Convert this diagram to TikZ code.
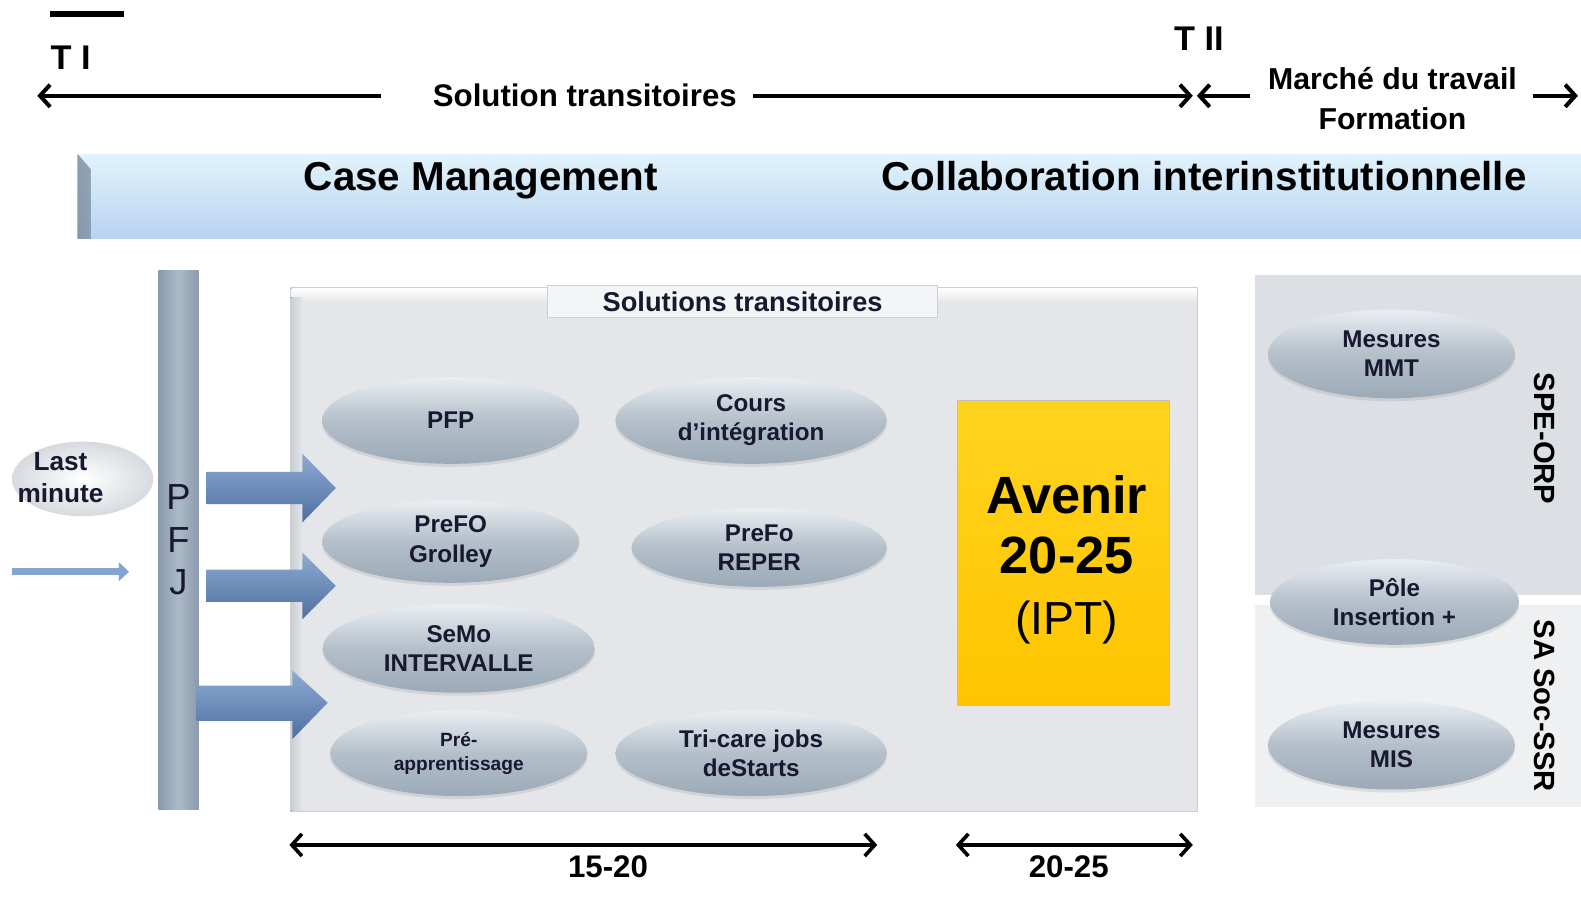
\documentclass[tikz,border=0pt]{standalone}
\usepackage{fontspec}
\setmainfont{Liberation Sans}
\usetikzlibrary{shapes.geometric,arrows.meta,shadows}
\definecolor{banTop}{RGB}{226,243,252}
\definecolor{banBot}{RGB}{184,210,240}
\definecolor{banEdge}{RGB}{178,198,222}
\definecolor{panel}{RGB}{228,230,233}
\definecolor{panelEdge}{RGB}{204,207,211}
\definecolor{tabFill}{RGB}{244,245,246}
\definecolor{pTop}{RGB}{234,238,242}
\definecolor{pMid}{RGB}{180,191,202}
\definecolor{pBot}{RGB}{156,170,184}
\definecolor{pfjA}{RGB}{138,154,172}
\definecolor{pfjB}{RGB}{172,186,200}
\definecolor{arTop}{RGB}{142,170,210}
\definecolor{arBot}{RGB}{78,112,160}
\definecolor{thinA}{RGB}{130,164,206}
\definecolor{goldTop}{RGB}{255,212,30}
\definecolor{goldBot}{RGB}{255,196,0}
\definecolor{goldEdge}{RGB}{190,190,190}
\definecolor{speFill}{RGB}{220,223,227}
\definecolor{socFill}{RGB}{238,240,242}
\definecolor{ink}{RGB}{24,24,48}
\definecolor{lmOut}{RGB}{214,218,223}
\tikzset{
  pill/.style={ellipse, draw=none, top color=pTop, bottom color=pBot, middle color=pMid,
    inner sep=0pt, align=center, text=ink, font=\bfseries\fontsize{12}{14.5}\selectfont,
    drop shadow={opacity=0.18, shadow xshift=0pt, shadow yshift=-1.5pt}},
  conn/.style={line width=2pt, -{Straight Barb[length=5pt,width=11pt]}},
  span/.style={line width=1.8pt, {Straight Barb[length=5pt,width=11pt]}-{Straight Barb[length=5pt,width=11pt]}},
  toptext/.style={font=\bfseries\fontsize{15.5}{19}\selectfont, inner sep=0pt},
  bantext/.style={font=\bfseries\fontsize{20}{24}\selectfont, inner sep=0pt, anchor=base},
  blockarrow/.style={top color=arTop, bottom color=arBot},
  sidetext/.style={rotate=-90, font=\bfseries\fontsize{14.5}{16}\selectfont, inner sep=0pt}
}
\begin{document}
\begin{tikzpicture}[x=0.5pt,y=-0.5pt]
\useasboundingbox[fill=white] (0,0) rectangle (1568,889);

% top timeline
\fill (50,11) rectangle (123,17);
\node[toptext, font=\bfseries\fontsize{17}{20}\selectfont] (ti) at (70,57) {T I};
\node[toptext, font=\bfseries\fontsize{17}{20}\selectfont] (tii) at (1189,38) {T II};
\node[toptext] (st) at (580,95) {Solution transitoires};
\node[toptext, font=\bfseries\fontsize{15}{19}\selectfont] (mt) at (1381,78) {Marché du travail};
\node[toptext, font=\bfseries\fontsize{15}{19}\selectfont] (form) at (1381,118) {Formation};
\coordinate (a0) at (37,95);
\coordinate (a1) at (378,95);
\coordinate (a2) at (747,95);
\coordinate (a3) at (1183,95);
\coordinate (a4) at (1240,95);
\coordinate (a5) at (1187,95);
\coordinate (a6) at (1520,95);
\coordinate (a7) at (1565,95);
\draw[conn] (a1) -- (a0);
\draw[conn] (a2) -- (a3);
\draw[conn] (a4) -- (a5);
\draw[conn] (a6) -- (a7);

% banner
\node[top color=banTop, bottom color=banBot, minimum width=745.5pt, minimum height=42pt, inner sep=0pt] (banner) at (822.5,195) {};
\fill[left color=banEdge, right color=banBot, opacity=0.6] (77,153) -- (90,168) -- (90,237) -- (77,237) -- cycle;
\node[bantext] (cm) at (477,189) {Case Management};
\node[bantext] (ci) at (1194,189) {Collaboration interinstitutionnelle};

% last minute and thin arrow
\node[ellipse, inner color=white, outer color=lmOut, minimum width=70pt, minimum height=37pt] (lastm) at (82,475) {};
\node[align=center, font=\bfseries\fontsize{13}{16}\selectfont, text=ink, inner sep=0pt] (lmtext) at (60,474) {Last\\minute};
\coordinate (t0) at (12,567);
\coordinate (t1) at (128,567);
\draw[line width=3.2pt, thinA, -{Triangle[length=5pt,width=9pt]}] (t0) -- (t1);

% PFJ bar
\node[left color=pfjA, right color=pfjA, middle color=pfjB, minimum width=20pt, minimum height=267.5pt, inner sep=0pt,
  align=center, font=\fontsize{18}{21}\selectfont, text=ink] (pfj) at (177,535.5) {P\\F\\J};

% main panel
\path[fill=panel, draw=panelEdge] (288,285) rectangle (1188,805);
\fill[top color=white, bottom color=panel] (289,286) rectangle (1187,300);
\fill[left color=panelEdge, right color=panel] (289,295) rectangle (300,804);
\node[draw=panelEdge, fill=tabFill, minimum width=193.5pt, minimum height=16pt, inner sep=0pt,
  font=\bfseries\fontsize{13.5}{15}\selectfont, text=ink] (tab) at (736.5,299) {Solutions transitoires};

% block arrows
\path[blockarrow] (205,468) -- (300,468) -- (300,450) -- (333,484) -- (300,518) -- (300,500) -- (205,500) -- cycle;
\path[blockarrow] (205,565) -- (300,565) -- (300,548) -- (333,581) -- (300,614) -- (300,597) -- (205,597) -- cycle;
\path[blockarrow] (195,680) -- (290,680) -- (290,665) -- (325,697) -- (290,733) -- (290,715) -- (195,715) -- cycle;

% ellipses in panel
\node[pill, minimum width=127.5pt, minimum height=43pt] (pfp) at (447,417) {PFP};
\node[pill, minimum width=134.5pt, minimum height=43pt] (cours) at (745,417) {Cours\\d'intégration};
\node[pill, minimum width=127.5pt, minimum height=41pt] (grolley) at (447,537) {PreFO\\Grolley};
\node[pill, minimum width=126.5pt, minimum height=39pt] (reper) at (753,543) {PreFo\\REPER};
\node[pill, minimum width=135pt, minimum height=44pt] (semo) at (455,643) {SeMo\\INTERVALLE};
\node[pill, minimum width=127.5pt, minimum height=42.5pt, font=\bfseries\fontsize{9.5}{12}\selectfont] (preapp) at (455,747) {Pré-\\apprentissage};
\node[pill, minimum width=134.5pt, minimum height=42.5pt] (tricare) at (745,747) {Tri-care jobs\\deStarts};

% Avenir
\node[top color=goldTop, bottom color=goldBot, draw=goldEdge, minimum width=105pt, minimum height=151.5pt, inner sep=0pt] (avenir) at (1055,548.5) {};
\node[align=center, font=\fontsize{26}{30}\selectfont, text=black, inner sep=0pt] (avtxt) at (1058,555)
  {\textbf{Avenir}\\\textbf{20-25}\\{\fontsize{23}{30}\selectfont (IPT)}};

% right panels
\fill[speFill] (1245,273) rectangle (1568,590);
\fill[socFill] (1245,600) rectangle (1568,800);
\node[pill, minimum width=122.5pt, minimum height=44pt] (mmt) at (1380,351) {Mesures\\MMT};
\node[pill, minimum width=123.5pt, minimum height=42.5pt] (pole) at (1383,597) {Pôle\\Insertion +};
\node[pill, minimum width=122.5pt, minimum height=44pt] (mis) at (1380,739) {Mesures\\MIS};
\node[sidetext] (spe) at (1532,435) {SPE-ORP};
\node[sidetext] (soc) at (1532,700) {SA Soc-SSR};

% bottom spans
\coordinate (b0) at (287,838);
\coordinate (b1) at (870,838);
\coordinate (b2) at (948,838);
\coordinate (b3) at (1183,838);
\draw[span] (b0) -- (b1);
\draw[span] (b2) -- (b3);
\node[toptext] (l1520) at (603,860) {15-20};
\node[toptext] (l2025) at (1060,860) {20-25};
\end{tikzpicture}
\end{document}
